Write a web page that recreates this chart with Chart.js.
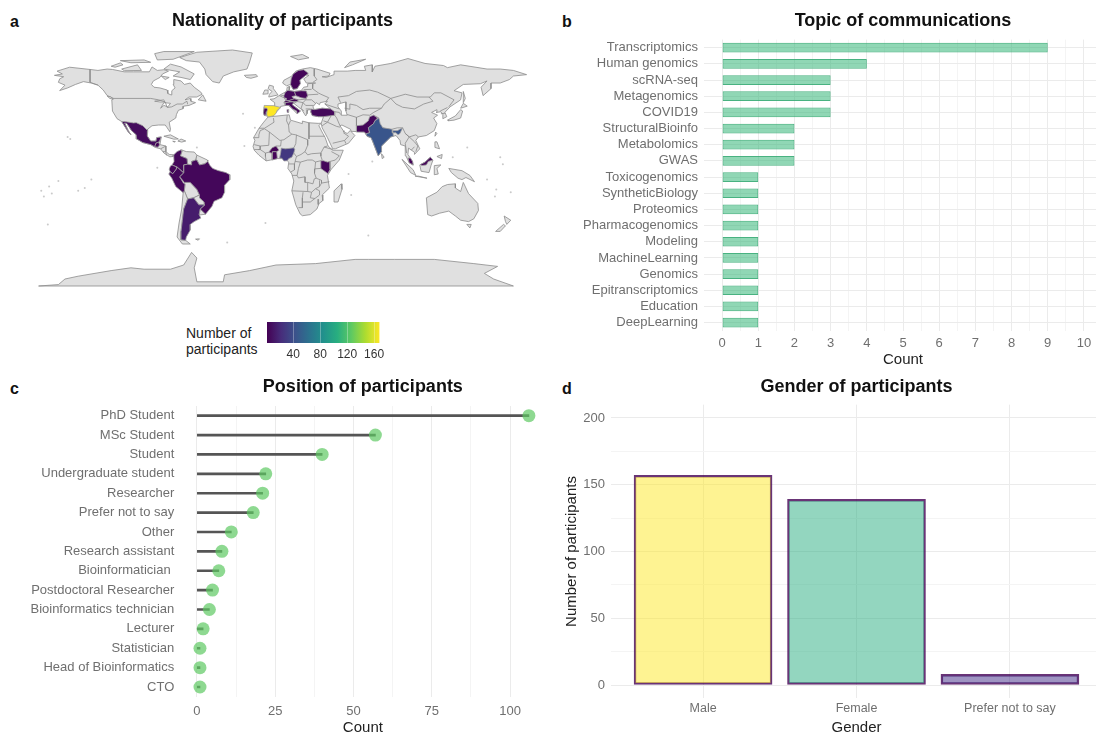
<!DOCTYPE html>
<html>
<head>
<meta charset="utf-8">
<title>Participants</title>
<script src="https://cdn.jsdelivr.net/npm/chart.js@4"></script>
<style>
  body { margin: 0; background: #fff; width: 1096px; height: 734px; overflow: hidden; position: relative; font-family: "Liberation Sans", sans-serif; }
  canvas { position: absolute; }
  .letter { position: absolute; font-weight: bold; font-size: 16px; color: #111; }
  #legendTitle { position: absolute; left: 186px; top: 325px; font-size: 14px; line-height: 16px; color: #222; }
</style>
</head>
<body>
<div class="letter" style="left:10px;top:13px">a</div>
<div class="letter" style="left:562px;top:13px">b</div>
<div class="letter" style="left:10px;top:380px">c</div>
<div class="letter" style="left:562px;top:380px">d</div>
<div id="legendTitle">Number of<br>participants</div>
<canvas id="mapChart" style="left:0;top:0"></canvas>
<canvas id="legendChart" style="left:230px;top:310px"></canvas>
<canvas id="topicChart" style="left:550px;top:0"></canvas>
<canvas id="positionChart" style="left:0;top:370px"></canvas>
<canvas id="genderChart" style="left:550px;top:370px"></canvas>
<script>
// panel b
var topicLabels = ['Transcriptomics', 'Human genomics', 'scRNA-seq', 'Metagenomics', 'COVID19', 'StructuralBioinfo', 'Metabolomics', 'GWAS', 'Toxicogenomics', 'SyntheticBiology', 'Proteomics', 'Pharmacogenomics', 'Modeling', 'MachineLearning', 'Genomics', 'Epitranscriptomics', 'Education', 'DeepLearning'];
var topicCounts = [9, 4, 3, 3, 3, 2, 2, 2, 1, 1, 1, 1, 1, 1, 1, 1, 1, 1];
var topicTicks = [0, 0.5, 1, 1.5, 2, 2.5, 3, 3.5, 4, 4.5, 5, 5.5, 6, 6.5, 7, 7.5, 8, 8.5, 9, 9.5, 10];

// panel c
var positionLabels = ['PhD Student', 'MSc Student', 'Student', 'Undergraduate student', 'Researcher', 'Prefer not to say', 'Other', 'Research assistant', 'Bioinformatician ', 'Postdoctoral Researcher', 'Bioinformatics technician', 'Lecturer', 'Statistician', 'Head of Bioinformatics', 'CTO'];
var positionCounts = [106, 57, 40, 22, 21, 18, 11, 8, 7, 5, 4, 2, 1, 1, 1];
var positionTicks = [0, 12.5, 25, 37.5, 50, 62.5, 75, 87.5, 100];

// panel d
var genderLabels = ['Male', 'Female', 'Prefer not to say'];
var genderCounts = [157, 139, 8];
var genderTicks = [0, 25, 50, 75, 100, 125, 150, 175, 200];

// panel a, colour bar
var viridisStops = ['#440154', '#472d7b', '#3b528b', '#2c728e', '#21918c', '#28ae80', '#5ec962', '#addc30', '#fde725'];
var legendRange = [1, 168];
var legendTicks = [40, 80, 120, 160];

// panel a, outlines as lon,lat pairs
var northAmerica = [-168,65.5,-162,66.5,-166,68.5,-156.5,71.3,-141,69.7,-135,69,-128,70,-124,69.7,-115,68,-108,68,-96,68,-94,71.5,-90,69,-85,69.5,-81.5,68.5,-86,66.5,-88,64,-93,61.5,-94.5,59,-92.5,57,-88,56.5,-82.5,55,-82,52.5,-79.5,51.5,-79,54.5,-76.5,56.5,-78,59,-77.5,62.5,-72,61.5,-69.5,59,-65,60,-62,57,-57,53.5,-56,52,-60,50,-66,50,-69,48,-65,49,-64.5,47,-61,46,-66,44,-70,43.5,-70.5,41.7,-74,40.5,-75.5,37.5,-76,35,-81,32,-80,27,-80.5,25.2,-82.5,28,-84,30,-89,30,-94,29.5,-97.3,27,-97.5,22,-95,18.5,-91,18.5,-90.5,21,-87,21.5,-88,16,-83.5,15,-83.5,11,-81,9,-77.5,8.7,-78,7.5,-80.5,7.3,-85,10,-87.5,13,-91.5,14,-95,16,-101,17.5,-105.5,20,-106,23,-109.5,26,-113,31,-114.8,31.5,-112,26,-110,23,-112,25,-115,29.5,-117,32.5,-120.5,34.5,-124,40,-124.5,48,-123,49,-128,51,-131,55,-135,58.5,-140,60,-146,61,-152,59,-158,56.5,-164,54.6,-160,58.5,-165,60.5,-164,63,-161,64.5];
var greenland = [-73,78.2,-60,82,-33,83.6,-18,81.5,-20,75,-22,70,-32,68,-40,65,-43,60,-48,61,-53,66,-54,70,-58,75,-68,76];
var baffin = [-80,73.5,-72,71.5,-62,66.5,-65,62.5,-72,64,-78,65,-73,68,-85,70];
var victoriaIsland = [-117,70,-105,73,-102,69,-115,68.8];
var ellesmere = [-90,76.5,-78,77,-62,82.5,-85,82.5,-92,81];
var banksIsland = [-125,72,-118,74.4,-116,73,-122,71.3];
var parryIslands = [-118,76,-100,76.5,-95,74.8,-110,74.5];
var newfoundland = [-59,48,-55.5,51.5,-53,47];
var southampton = [-87,65,-81,64,-84,62.5];
var vancouverIsland = [-128,50.7,-125,50,-123.5,48.4,-126,49];
var cuba = [-85,22,-80,23,-74,20,-77.5,19.9];
var hispaniola = [-74.4,18.5,-72,20,-68.4,18.6,-71.5,17.8];
var jamaica = [-78.3,18.4,-76.3,18.2,-77,17.8];
var greatLakeNorth = [-92,47,-85,48,-84.5,46.5,-88,46.5];
var greatLakeSouth = [-87.5,42,-85,46,-80,45.5,-82,43,-85,44];
var southAmericaNorth = [-60,8.5,-52,5,-51.7,4,-54,2.3,-58,1.5,-60,5,-61,5];
var venezuela = [-72,12.3,-68,11,-62,10.7,-60,8.5,-61,5,-64,4,-64,1.5,-67,2,-67.5,6,-70,7,-72.5,8,-71.3,11];
var bolivia = [-69.5,-11,-65,-11,-60,-16,-58,-20,-62.5,-22,-67,-22.8,-69.5,-17,-69,-12.5];
var paraguay = [-58,-20,-58,-22,-54.5,-25,-54,-27,-58.5,-27,-62.5,-22];
var uruguay = [-57.5,-30,-53.4,-33.7,-58.3,-34.3];
var chile = [-70.4,-18.3,-69.5,-17,-67,-22.8,-70,-30,-71,-38,-72,-46,-72,-52,-68.5,-52.4,-65,-55,-71,-55,-75,-50,-73.5,-40,-71.5,-30];
var falklands = [-61,-51.5,-58,-51.3,-59,-52.3];
var africa = [-6,35.8,10,37.3,11,33.5,20,31,20,32.8,25,31.6,32,31.2,34.3,31.3,32.5,29.5,35.5,24,37.3,21,39.5,15,43,12,51,12,48,5,42,-1.5,39,-6,40.5,-15,35,-20,35.5,-24,32.7,-26,31,-30,26,-34,20,-34.8,18.3,-33.5,15,-27,12,-17,13.5,-10,12,-5,9,-1,9.7,3.5,8.5,4.5,5,6,1,6,-4,5,-7.5,4.4,-13,8.5,-16.5,12,-17.4,14.7,-16,19,-17,21,-13,27.5,-9.8,31.5];
var madagascar = [49.5,-12,50,-16,47,-25,44,-25,44,-17];
var eurasia = [-9,37,-9.5,39,-9,43,-1.5,43.5,-1,46,-4.5,48.4,-1.5,48.7,1.5,50.5,4,52,8,54,8.5,57,10.5,57.5,10,54.5,14,54,19,54.5,21,57,24,57.5,24,59.5,30,60,23,60,21,63,25,65.5,22,65.8,17.5,62,18,59.5,16,56,13,55.5,11,59,8,58,5,60,6,62,12,65,15,68.5,20,70,26,71,31,70,41,67,40,65,35,64.5,38,64,44,66,44,68.5,54,68.5,60,69,68,69,67,72,73,73,73,68,75,72,87,74,100,77.5,113,74,127,72.5,130,71,140,73,160,70,170,70,180,69,190,66,180,65,177,62.5,170,60,163,60,163,56,157,51,155.5,57,160,61.5,155,59.5,142,59,135,54.5,141,53,140,48,132,43,128,39,129.5,36,126.5,34.5,126.5,37.5,125,39.5,121.5,39,122,41,118,39,122.5,37,119.5,35,122,31,120,26,114,22.5,108,21.5,106,19,109,13,105,9,105,10.5,100.5,13.5,100,9,103.5,4,104,1.3,101,3,98.5,8,98,15,94.5,16,94,19,91,22.5,87,21.5,80,15,80,11,77.5,8,73,19,72,21,69,22,67,25,57,25.5,56.5,27,50,30,48.5,29.5,51,26,51.5,25,54,24,56.3,26,59.8,22.5,55,17,45,13,43,13,39,21,35,28,34.3,31.3,36,36,32,36,27.5,36.8,26.3,39.5,29,41,35,42,41.5,41.5,37,45,39,47,33.5,46,33,44.5,30.5,46,28,43,28.9,41.2,24,40.8,23.5,38,22.5,36.5,19.5,41,13.5,45.5,12.3,44.5,18.5,40,16,38,12.5,41.5,9,44.3,3.5,43.3,3,42,-0.5,38.5,-2,36.7,-5.5,36];
var britain = [-5.5,50,1.5,51.5,0,53.5,-2,56,-2,57.7,-5,58.5,-6,56,-3,54,-5,52];
var ireland = [-10,52,-6,52.3,-6,55,-8.5,55];
var iceland = [-24,65.5,-15,66,-14,64.7,-19,63.4,-22.5,64];
var novayaZemlya = [52,71,56,75,68,77,58,73];
var svalbard = [11,79,20,80.4,25,78,17,76.6];
var sriLanka = [80,9.5,82,7,80.5,6];
var honshu = [130.5,33,135,33.5,140,35,141.5,40,140,41,136,36.5,131,34];
var hokkaido = [140,42,145,43.5,142,45.5];
var sakhalin = [142,54,143.5,49,142,46];
var taiwan = [121,25,122,24,120.5,22];
var luzon = [120.5,18,122,18,124,13,120.5,14];
var mindanao = [122,7.5,126,9,125.5,6];
var sumatra = [95.5,5.5,104,-2,106,-6,102,-4];
var java = [105.5,-6.5,114.5,-8,108,-6.5];
var borneo = [109,1.5,113,3.5,117,7,119,5,117.5,1,116,-4,110,-3];
var sulawesi = [120,1,125,1.5,122,-1,123,-5,120,-5.5];
var newGuinea = [131,-1,141,-2.6,147,-6,150.5,-10.5,144,-7.5,141,-9,138,-8,133,-4];
var australia = [114,-22,122,-18,126,-14,130,-12.5,136,-12,136,-15,140,-17.5,142,-11,146,-19,153,-26,153.5,-31,150,-37,146,-39,140,-38,136,-35,131,-31.5,124,-33,118,-35,115,-34];
var tasmania = [144.7,-41,148,-41,147,-43.5];
var newZealandNorth = [173,-35,178,-38,175,-41,174,-39];
var newZealandSouth = [172.5,-41,174,-42,170,-46,166.5,-46];
var antarctica = [-180,-85,-165,-84,-160,-80,-150,-78,-125,-74,-110,-72,-100,-73,-80,-73,-70,-70,-64,-61,-60,-65,-62,-72,-60,-82,-40,-82,-39,-77,-20,-74,0,-70,30,-69,60,-66,70,-66,90,-66,120,-66,150,-69,168,-71,158,-76,165,-80,180,-85];
var caspian = [47,45,53,46.5,53,40,54,37,50,37,49.5,40,47,43];

var spain = [-9,44,-1.8,43.8,3.4,42.6,0.8,40.5,0.2,38.7,-1.6,36.7,-5.5,35.8,-7.4,37.2,-7,42,-9,42];
var portugal = [-9,42,-7,42,-6.5,41,-7,39.5,-7.4,37.2,-9,37,-9.5,39];
var germany = [6,51,7,53.5,9,54.8,14,54,15,51,12,50.3,13.8,48.7,10,47.4,7.5,47.6,8,49,6,49.5];
var poland = [14,54,19,54.5,23,54.3,24,51,22.5,49,19,49.5,15,51];
var switzerland = [6,46.2,7.5,47.6,10,47.4,10.4,46.5,8,46];
var austria = [9.6,47.4,13.8,48.7,17,48,16,46.8,13,46.6,10.4,46.9];
var italy = [7,44,7,46,10.4,46.5,13.7,46.5,12.3,44.5,13.7,43.5,18.5,40,16,38,15.7,40,12.5,41.5,10,44];
var sardinia = [8.3,41,9.7,41,9.5,39,8.5,39];
var sweden = [11,59,13,55.5,16,56,18.5,59.5,18,62,23,65.8,24.5,67,21,69.5,17,69,13,66.5,11.5,63];
var turkey = [26.3,39.5,26.5,41.5,29,41,35,42,41.5,41.5,44.5,39.5,44.5,37,36,36,32,36,27.5,36.8];
var pakistan = [61,25,67,25,68.2,23.7,71,24.5,70,28,74,31,75,33,77,35,74,37,71,36,70,33,66,30,61,29.5];
var india = [68.2,23.7,69,22,72,21,73,19,77.5,8,80,11,80,15,87,21.5,89,22,88.5,26,92,26,96,28,94,24,92.5,23,91,24.5,88,24.5,88,27,81,28,79,31,78,35,75,33,74,31,70,28,71,24.5];
var mexico = [-117,32.5,-114.8,32.5,-108,31.5,-106,31.7,-101,29.5,-97.3,26,-97.5,22,-95,18.5,-91,18.5,-90.5,21,-87,21.5,-88.5,18,-91,17,-92,14.5,-95,16,-101,17.5,-105.5,20,-106,23,-109.5,26,-113,31,-114.8,31.5,-112,26,-110,23,-112,25,-115,29.5];
var guatemala = [-92,14.5,-91,17,-89,17.8,-88.3,15.8,-89.5,14.2];
var colombia = [-77.5,8.7,-75,11,-72,12.3,-71.3,11,-72.5,8,-70,7,-67.5,6,-67,2,-70,1.5,-69.9,-4.2,-72,-2.5,-75,0,-78.8,1.4,-77.3,4,-77.5,7];
var ecuador = [-78.8,1.4,-75.2,0,-75.5,-1.5,-78.3,-4.8,-80.3,-3.4,-81,-1.5,-80,0.8];
var peru = [-80.3,-3.4,-78.3,-4.8,-75.5,-1.5,-75,0,-70,-4.2,-73,-7,-70.5,-11,-69,-12.5,-69.5,-17,-70.4,-18.3,-76,-14,-79,-8,-81.3,-5];
var brazil = [-51.7,4,-50,1,-48,-1,-44,-2.5,-38,-4,-35,-5.5,-35,-9,-39,-13,-39,-18,-41,-22,-47,-24.5,-48.5,-28,-53.4,-33.7,-57.5,-30,-54,-27,-54.5,-25,-58,-22,-58,-20,-60,-16,-65,-11,-69.5,-11,-73,-7,-70,-4.2,-69.9,1.5,-67,2,-64,1.5,-64,4,-61,5,-60,5,-58,1.5,-54,2.3];
var argentina = [-67,-22.8,-62.5,-22,-58.5,-27,-54,-27,-57.5,-30,-58.3,-34,-57,-36.5,-62,-39,-65,-41,-65,-45,-68,-50,-68.5,-52.4,-72,-52,-72,-46,-71,-38,-70,-30];
var nigeria = [2.7,6.4,4.5,6.2,6,4.3,8.5,4.5,9.7,6,12,7,13.5,10,14.2,12.5,13.5,13.7,10,13.3,7,13,4,13.5,3.5,10];
var ghana = [-3,5,1,6,0.5,11,-3,11];
var burkinaFaso = [-5.5,10.5,-3,9.8,-2.8,11,0.5,11,2.3,12,0,15,-3,13.7];
var kenya = [34,4.5,36,4.5,39,3.5,41,4,41,-1.7,39.3,-4.7,34,-1];
var malaysiaPeninsula = [100.2,6.5,102,6.3,103.5,4,104,1.5,101,3];
var malaysiaBorneo = [109.6,1.8,113,3.5,117,7,119,5,115.5,4,114,1.5,110.5,1];

var greyLand = [northAmerica, greenland, baffin, victoriaIsland, ellesmere, banksIsland, parryIslands, newfoundland, southampton, vancouverIsland, cuba, hispaniola, jamaica, southAmericaNorth, venezuela, bolivia, paraguay, uruguay, chile, falklands, africa, madagascar, eurasia, britain, ireland, iceland, novayaZemlya, svalbard, sriLanka, honshu, hokkaido, sakhalin, taiwan, luzon, mindanao, sumatra, java, borneo, sulawesi, newGuinea, australia, tasmania, newZealandNorth, newZealandSouth, antarctica];
var waterBodies = [greatLakeNorth, greatLakeSouth, caspian];

var nationalityShapes = [spain, portugal, germany, poland, switzerland, austria, italy, sardinia, sweden, turkey, pakistan, india, mexico, guatemala, colombia, ecuador, peru, brazil, argentina, nigeria, ghana, burkinaFaso, kenya, malaysiaPeninsula, malaysiaBorneo];
var nationalityCounts = [168, 4, 5, 4, 2, 2, 3, 3, 3, 5, 4, 45, 6, 2, 5, 3, 5, 4, 14, 28, 3, 2, 4, 3, 3];

var borderLines = [
  [-141,69.7,-141,60.5,-135,58.5],
  [-123,49,-95,49,-89,48,-84,46.5,-82.5,42.5,-79,43,-75,45,-71,45,-67.5,47,-67,44.8],
  [-87.5,13,-83.5,15], [-85.7,11,-83.7,11,-83,8.3],
  [2.5,51,6,49.5,7.5,47.6,6,46.2,7,44], [3.4,51.4,6,51],
  [29,70,29,65,31,62.5,28,60.5], [24,66,21,69],
  [28,59.5,27.5,57.5,28,56,32,53,34,52,40,49.5,38,47], [21,55.3,27,55.5], [23.5,51.5,32,52],
  [24,51,22.5,48,27,48,30,45.5], [22.5,48,20.5,46,22.5,44,28.5,44], [22.5,41.5,26.3,41.5],
  [13.5,45.5,16,46.8,20.5,46,19,42,21,40], [13.8,48.7,17,48,22.5,48.5],
  [49,46,47,50,55,51,61,54,71,55,77,53.5,87,49], [87,49,98,52,107,50,117,50,120,53,125,53,135,48,131,43],
  [87,49,91,45,96,42.7,105,41.5,112,45,119,47,116,50],
  [52,42,56,41.3,56,45,61,44,66,41,71,42,80,42,82,45,87,49], [54,37.5,61,35.5,66,37.3,71,37,74,39,80,42],
  [44.5,39.5,48,39,49,37.5], [61,35.5,61,29.5], [44.5,37,46,35,48.5,29.5],
  [36,33,39,32,42,37], [35,29.5,39,32,46,29,48.5,28.5], [43,17,52,19,55,22,51,24.5], [52,19,53,16.7], [37,45,48,41.5],
  [74,37,78,35], [88,27,92,28,96,28,98,24,101,21.5,106,23,108,21.5], [81,28,88,26.5],
  [98,24,101,21.5,98,17,99,10], [101,21.5,105,18,107.5,15,106,11], [105,14.5,102.5,12], [124.5,40,130,42.5], [125,38,128.5,38.5],
  [-2,35,-1.5,32,-8.7,27.7,-13,27.7], [-8.7,27.3,-5,25,3,19,6,19.5,12,23.5,10,25,9.5,30,8,33,8.5,37],
  [-17,21,-13,21,-13,23,-12,26,-8.7,27.3], [-5,25,-5.5,15.5,-12,15,-16.5,16], [-12,15,-12,12.5,-8,10,-5.5,10.5], [0,15,3.5,15,4,19],
  [-13.5,12.5,-12,12.5], [-8,10,-8,7.5,-7.5,4.4], [-16.5,12.5,-12,12.5],
  [15.5,23,15,16.7,13.5,13.7], [12,23.5,15,23,24,19.5], [24,19.5,24,15.5,22,11,24,8.7],
  [13.5,10,15.5,7.5,14.5,4,18.5,3.5,24,5,27.5,5,30,3.6], [15.5,7.5,19,9,22,11], [24,8.7,27,9.5,34,10], [25,22,36.8,22], [25,31.6,25,20], [9.5,30,11,33],
  [39,15,36.5,14.3,34,10,34,7.8,35,5], [36.5,14.3,43,12.5], [42,11,48,8,45,5,41,4], [34,4.5,30,3.6,29.5,-1.3,34,-1],
  [29.5,-1.3,29.2,-4.5,30.5,-8,34.5,-9.5,34.5,-11.5,40.5,-10.5], [12.2,-6,16,-6,17,-7.8,22,-7,22,-11,24,-11,28,-12,29,-8.5,30.5,-8],
  [9.7,2.2,14,2.2,14.5,4], [18.5,3.5,17,-1,16,-6], [14,2.2,14,-2,11,-3.7],
  [12,-17,24,-17.5,24,-11], [24,-17.5,27,-18,30,-15.5,33,-14,33,-9.5], [33,-14,34.5,-11.5], [27,-18,26,-22,29.5,-22.5,33,-20,33,-17,30,-15.5],
  [20,-22,20,-29,17,-29], [20,-22,20.5,-18], [20,-25,26,-25,29.5,-22.5], [32,-23,32,-26.8]
];

var pacificSpecks = [-156,20,-158,21.5,-172,-14,-150,-17,-140,-9,-170,-19,-178,-17,-165,-10,-176,-21,-145,-15,167,-16,166,-21,160,-9,178,-18,145,14,134,7,170,7,172,2,-90,-0.5,-25,38,-16,28,-24,15,57,-20,73,4,55,-5,-173,-41,-8,-40,-37,-54,70,-49,-60,14];

function toPoints(flat, closed) {
  var pts = [];
  for (var i = 0; i < flat.length; i += 2) {
    pts.push({ x: flat[i], y: flat[i + 1] });
  }
  if (closed) { pts.push({ x: flat[0], y: flat[1] }); }
  return pts;
}

function hexToRgb(h) {
  return [parseInt(h.substr(1, 2), 16), parseInt(h.substr(3, 2), 16), parseInt(h.substr(5, 2), 16)];
}

function viridisColor(value) {
  var t = (value - legendRange[0]) / (legendRange[1] - legendRange[0]) * (viridisStops.length - 1);
  var i = Math.min(Math.floor(t), viridisStops.length - 2);
  var a = hexToRgb(viridisStops[i]), b = hexToRgb(viridisStops[i + 1]);
  var f = t - i;
  return 'rgb(' + Math.round(a[0] + (b[0] - a[0]) * f) + ',' + Math.round(a[1] + (b[1] - a[1]) * f) + ',' + Math.round(a[2] + (b[2] - a[2]) * f) + ')';
}

Chart.defaults.font.family = '"Liberation Sans", sans-serif';
Chart.defaults.animation = false;
Chart.defaults.responsive = false;
Chart.defaults.plugins.legend.display = false;
Chart.defaults.plugins.tooltip.enabled = false;

var tickGrey = '#6f6f6f';
var gridMajor = '#ebebeb';
var gridMinor = '#f4f4f4';

function makeTitle(text, top, bottom) {
  return {
    display: true, text: text, fullSize: false, color: '#111',
    font: { size: 18, weight: 'bold', lineHeight: 1 },
    padding: { top: top, bottom: bottom }
  };
}

function fixedTicks(list) {
  return function (scale) {
    scale.ticks = list.map(function (v) { return { value: v }; });
  };
}

function sizeCanvas(id, w, h) {
  var c = document.getElementById(id);
  c.width = w;
  c.height = h;
  return c;
}

// the line element only strokes, so fill each closed outline from the points the scales placed
var outlineFill = {
  id: 'outlineFill',
  beforeDatasetDraw: function (chart, args) {
    var ds = chart.data.datasets[args.index];
    if (!ds.shapeFill) { return; }
    var pts = args.meta.data;
    var ctx = chart.ctx;
    ctx.save();
    ctx.beginPath();
    pts.forEach(function (p, i) {
      if (i === 0) { ctx.moveTo(p.x, p.y); } else { ctx.lineTo(p.x, p.y); }
    });
    ctx.closePath();
    ctx.fillStyle = ds.shapeFill;
    ctx.fill();
    ctx.restore();
  }
};

function shapeDataset(flat, fillColor, lineColor) {
  return {
    data: toPoints(flat, true), showLine: true, pointRadius: 0, borderWidth: 0.8,
    borderColor: lineColor, shapeFill: fillColor, clip: false
  };
}

var mapLayers = [];
greyLand.forEach(function (s) { mapLayers.push(shapeDataset(s, '#e0e0e0', '#8c8c8c')); });
waterBodies.forEach(function (s) { mapLayers.push(shapeDataset(s, '#ffffff', '#8c8c8c')); });
borderLines.forEach(function (s) {
  mapLayers.push({ data: toPoints(s, false), showLine: true, pointRadius: 0, borderWidth: 0.8, borderColor: '#8c8c8c', clip: false });
});
nationalityShapes.forEach(function (s, i) {
  mapLayers.push(shapeDataset(s, viridisColor(nationalityCounts[i]), '#a0a0a0'));
});
mapLayers.push({ data: toPoints(pacificSpecks, false), showLine: false, pointRadius: 1, pointBackgroundColor: 'rgba(150,150,150,0.5)', pointBorderWidth: 0, clip: false });

new Chart(sizeCanvas('mapChart', 565, 300), {
  type: 'scatter',
  plugins: [outlineFill],
  // first dataset is painted last in Chart.js, so reverse to keep land underneath
  data: { datasets: mapLayers.reverse() },
  options: {
    layout: { padding: { left: 38.6, right: 38.4, top: 0, bottom: 14 } },
    plugins: { title: makeTitle('Nationality of participants', 12, 20) },
    scales: {
      x: { type: 'linear', display: false, min: -180, max: 190 },
      y: { type: 'linear', display: false, min: -85, max: 83.6 }
    }
  }
});

new Chart(sizeCanvas('legendChart', 170, 55), {
  type: 'bar',
  data: {
    labels: [''],
    datasets: [{
      data: [legendRange],
      barPercentage: 1,
      categoryPercentage: 1,
      backgroundColor: function (ctx) {
        var area = ctx.chart.chartArea;
        if (!area) { return viridisStops[0]; }
        var g = ctx.chart.ctx.createLinearGradient(area.left, 0, area.right, 0);
        viridisStops.forEach(function (c, i) { g.addColorStop(i / (viridisStops.length - 1), c); });
        return g;
      }
    }]
  },
  options: {
    indexAxis: 'y',
    layout: { padding: { left: 37, right: 20.5, top: 12, bottom: 0 } },
    scales: {
      x: {
        type: 'linear', min: legendRange[0], max: legendRange[1],
        afterBuildTicks: fixedTicks(legendTicks),
        afterFit: function (s) { s.height = 22; },
        border: { display: false },
        grid: { color: 'rgba(255,255,255,0.3)', z: 1, drawTicks: false },
        ticks: { padding: 4, color: '#333', font: { size: 12 }, maxRotation: 0, autoSkip: false }
      },
      y: { display: false }
    }
  }
});

new Chart(sizeCanvas('topicChart', 552, 370), {
  type: 'bar',
  data: {
    labels: topicLabels,
    datasets: [{
      data: topicCounts,
      backgroundColor: 'rgba(53,183,121,0.55)',
      borderColor: 'rgba(53,170,115,0.9)',
      borderWidth: 1,
      borderSkipped: false,
      barPercentage: 0.6,
      categoryPercentage: 1
    }]
  },
  options: {
    indexAxis: 'y',
    plugins: { title: makeTitle('Topic of communications', 12, 9.6) },
    scales: {
      x: {
        type: 'linear', min: -0.5, max: 10.5,
        afterBuildTicks: fixedTicks(topicTicks),
        afterFit: function (s) { s.height = 39.3; },
        border: { display: false },
        grid: {
          drawTicks: false,
          color: function (c) { return c.tick.value % 1 ? gridMinor : gridMajor; }
        },
        ticks: {
          padding: 5, color: tickGrey, font: { size: 13 }, maxRotation: 0, autoSkip: false,
          callback: function (v) { return v % 1 ? '' : v; }
        },
        title: { display: true, text: 'Count', color: '#222', font: { size: 15 }, padding: 1 }
      },
      y: {
        afterFit: function (s) { s.width = 154; },
        border: { display: false },
        grid: { drawTicks: false, color: gridMajor, offset: false },
        ticks: { padding: 6, color: tickGrey, font: { size: 13 }, autoSkip: false }
      }
    }
  }
});

new Chart(sizeCanvas('positionChart', 552, 367), {
  type: 'bar',
  data: {
    labels: positionLabels,
    datasets: [
      {
        type: 'line', indexAxis: 'y', data: positionCounts, showLine: false, order: 0,
        pointRadius: 6.5, pointBorderWidth: 0, pointBackgroundColor: 'rgba(94,201,98,0.7)', clip: false
      },
      { data: positionCounts, backgroundColor: '#555555', barThickness: 2, order: 1 }
    ]
  },
  options: {
    indexAxis: 'y',
    layout: { padding: { right: 3.3 } },
    plugins: { title: makeTitle('Position of participants', 8, 10) },
    scales: {
      x: {
        type: 'linear', min: -5.3, max: 111.3,
        afterBuildTicks: fixedTicks(positionTicks),
        afterFit: function (s) { s.height = 40.3; },
        border: { display: false },
        grid: {
          drawTicks: false,
          color: function (c) { return c.tick.value % 25 ? gridMinor : gridMajor; }
        },
        ticks: {
          padding: 6.5, color: tickGrey, font: { size: 13 }, maxRotation: 0, autoSkip: false,
          callback: function (v) { return v % 25 ? '' : v; }
        },
        title: { display: true, text: 'Count', color: '#222', font: { size: 15 }, padding: 0 }
      },
      y: {
        afterFit: function (s) { s.width = 180.25; },
        border: { display: false },
        grid: { display: false, drawTicks: false },
        ticks: { padding: 6, color: tickGrey, font: { size: 13 }, autoSkip: false }
      }
    }
  }
});

new Chart(sizeCanvas('genderChart', 552, 367), {
  type: 'bar',
  data: {
    datasets: [{
      data: genderCounts.map(function (v, i) { return { x: i + 1, y: v }; }),
      backgroundColor: ['rgba(253,231,37,0.5)', 'rgba(40,174,128,0.5)', 'rgba(62,41,133,0.5)'],
      borderColor: 'rgba(68,1,84,0.8)',
      borderWidth: 1.8,
      borderSkipped: false,
      barThickness: 138
    }]
  },
  options: {
    plugins: { title: makeTitle('Gender of participants', 8, 8.65) },
    scales: {
      x: {
        type: 'linear', min: 0.4, max: 3.6, offset: false,
        afterBuildTicks: fixedTicks([1, 2, 3]),
        afterFit: function (s) { s.height = 38.65; },
        border: { display: false },
        grid: { drawTicks: false, color: gridMajor, offset: false },
        ticks: {
          padding: 3, color: tickGrey, font: { size: 12.5 }, maxRotation: 0, autoSkip: false,
          callback: function (v) { return genderLabels[v - 1]; }
        },
        title: { display: true, text: 'Gender', color: '#222', font: { size: 15 }, padding: 0 }
      },
      y: {
        type: 'linear', min: -10, max: 210,
        afterBuildTicks: fixedTicks(genderTicks),
        afterFit: function (s) { s.width = 61; },
        border: { display: false },
        grid: {
          drawTicks: false,
          color: function (c) { return c.tick.value % 50 ? gridMinor : gridMajor; }
        },
        ticks: {
          padding: 6, color: tickGrey, font: { size: 13 }, autoSkip: false,
          callback: function (v) { return v % 50 ? '' : v; }
        },
        title: { display: true, text: 'Number of participants', color: '#222', font: { size: 15 }, padding: 13 }
      }
    }
  }
});
</script>
</body>
</html>
